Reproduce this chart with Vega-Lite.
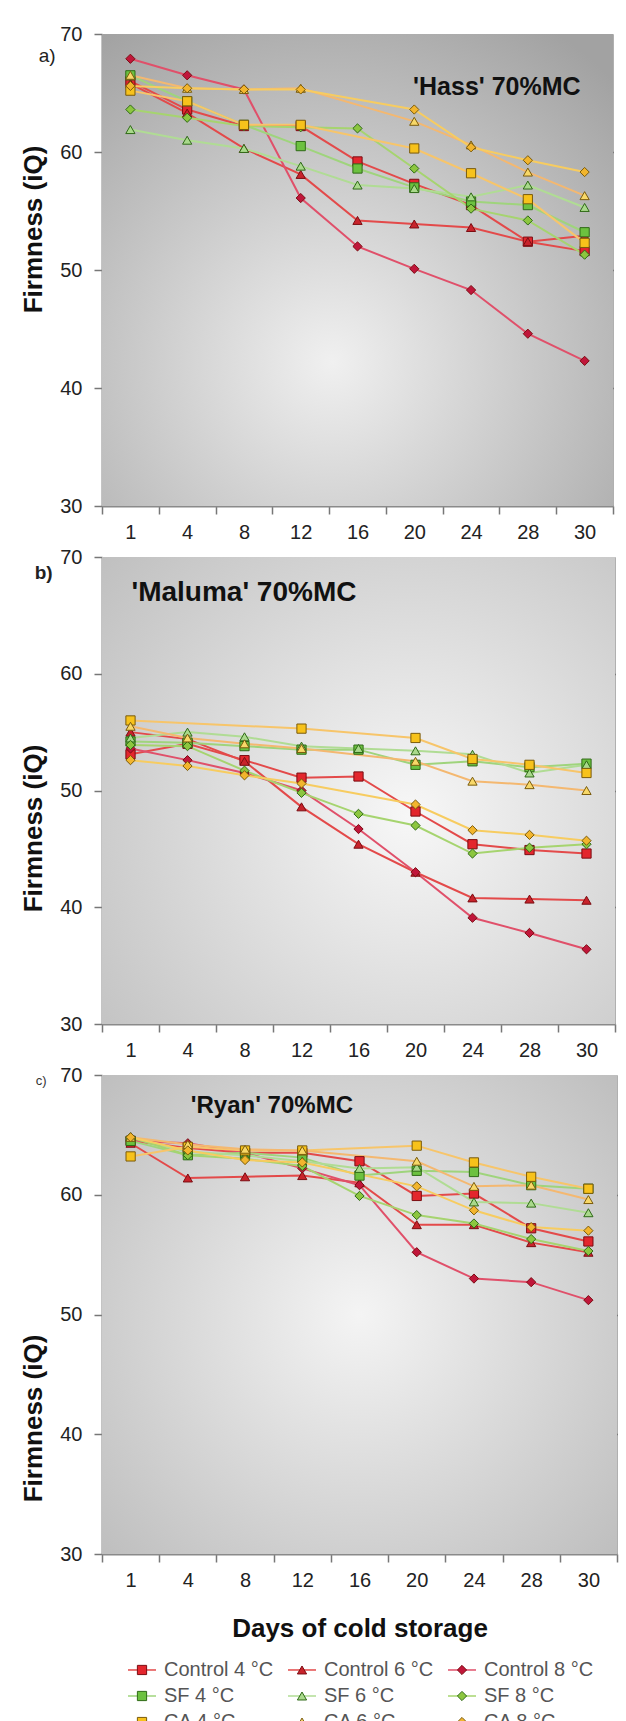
{
  "$schema": "https://vega.github.io/schema/vega-lite/v6.json",
  "background": "white",
  "padding": {"left": 20, "top": 23, "right": 5, "bottom": 0},
  "bounds": "full",
  "spacing": 3,
  "datasets": {
    "hass": [
      {"day":"1","series":"Control 4 °C","firmness":66.0},{"day":"4","series":"Control 4 °C","firmness":63.6},{"day":"8","series":"Control 4 °C","firmness":62.2},{"day":"12","series":"Control 4 °C","firmness":62.2},{"day":"16","series":"Control 4 °C","firmness":59.2},{"day":"20","series":"Control 4 °C","firmness":57.3},{"day":"24","series":"Control 4 °C","firmness":55.5},{"day":"28","series":"Control 4 °C","firmness":52.4},{"day":"30","series":"Control 4 °C","firmness":51.6},
      {"day":"1","series":"Control 6 °C","firmness":65.8},{"day":"4","series":"Control 6 °C","firmness":63.3},{"day":"8","series":"Control 6 °C","firmness":60.3},{"day":"12","series":"Control 6 °C","firmness":58.1},{"day":"16","series":"Control 6 °C","firmness":54.2},{"day":"20","series":"Control 6 °C","firmness":53.9},{"day":"24","series":"Control 6 °C","firmness":53.6},{"day":"28","series":"Control 6 °C","firmness":52.4},{"day":"30","series":"Control 6 °C","firmness":52.9},
      {"day":"1","series":"Control 8 °C","firmness":67.9},{"day":"4","series":"Control 8 °C","firmness":66.5},{"day":"8","series":"Control 8 °C","firmness":65.3},{"day":"12","series":"Control 8 °C","firmness":56.1},{"day":"16","series":"Control 8 °C","firmness":52.0},{"day":"20","series":"Control 8 °C","firmness":50.1},{"day":"24","series":"Control 8 °C","firmness":48.3},{"day":"28","series":"Control 8 °C","firmness":44.6},{"day":"30","series":"Control 8 °C","firmness":42.3},
      {"day":"1","series":"SF 4 °C","firmness":66.5},{"day":"4","series":"SF 4 °C","firmness":64.3},{"day":"8","series":"SF 4 °C","firmness":62.3},{"day":"12","series":"SF 4 °C","firmness":60.5},{"day":"16","series":"SF 4 °C","firmness":58.6},{"day":"20","series":"SF 4 °C","firmness":57.0},{"day":"24","series":"SF 4 °C","firmness":55.8},{"day":"28","series":"SF 4 °C","firmness":55.5},{"day":"30","series":"SF 4 °C","firmness":53.2},
      {"day":"1","series":"SF 6 °C","firmness":61.9},{"day":"4","series":"SF 6 °C","firmness":61.0},{"day":"8","series":"SF 6 °C","firmness":60.3},{"day":"12","series":"SF 6 °C","firmness":58.8},{"day":"16","series":"SF 6 °C","firmness":57.2},{"day":"20","series":"SF 6 °C","firmness":56.9},{"day":"24","series":"SF 6 °C","firmness":56.2},{"day":"28","series":"SF 6 °C","firmness":57.2},{"day":"30","series":"SF 6 °C","firmness":55.3},
      {"day":"1","series":"SF 8 °C","firmness":63.6},{"day":"4","series":"SF 8 °C","firmness":62.9},{"day":"8","series":"SF 8 °C","firmness":62.2},{"day":"12","series":"SF 8 °C","firmness":62.1},{"day":"16","series":"SF 8 °C","firmness":62.0},{"day":"20","series":"SF 8 °C","firmness":58.6},{"day":"24","series":"SF 8 °C","firmness":55.2},{"day":"28","series":"SF 8 °C","firmness":54.2},{"day":"30","series":"SF 8 °C","firmness":51.3},
      {"day":"1","series":"CA 4 °C","firmness":65.2},{"day":"4","series":"CA 4 °C","firmness":64.3},{"day":"8","series":"CA 4 °C","firmness":62.3},{"day":"12","series":"CA 4 °C","firmness":62.3},{"day":"20","series":"CA 4 °C","firmness":60.3},{"day":"24","series":"CA 4 °C","firmness":58.2},{"day":"28","series":"CA 4 °C","firmness":56.0},{"day":"30","series":"CA 4 °C","firmness":52.3},
      {"day":"1","series":"CA 6 °C","firmness":66.5},{"day":"4","series":"CA 6 °C","firmness":65.4},{"day":"8","series":"CA 6 °C","firmness":65.3},{"day":"12","series":"CA 6 °C","firmness":65.4},{"day":"20","series":"CA 6 °C","firmness":62.6},{"day":"24","series":"CA 6 °C","firmness":60.6},{"day":"28","series":"CA 6 °C","firmness":58.3},{"day":"30","series":"CA 6 °C","firmness":56.3},
      {"day":"1","series":"CA 8 °C","firmness":65.6},{"day":"4","series":"CA 8 °C","firmness":65.4},{"day":"8","series":"CA 8 °C","firmness":65.3},{"day":"12","series":"CA 8 °C","firmness":65.3},{"day":"20","series":"CA 8 °C","firmness":63.6},{"day":"24","series":"CA 8 °C","firmness":60.4},{"day":"28","series":"CA 8 °C","firmness":59.3},{"day":"30","series":"CA 8 °C","firmness":58.3}
    ],
    "maluma": [
      {"day":"1","series":"Control 4 °C","firmness":53.1},{"day":"4","series":"Control 4 °C","firmness":54.0},{"day":"8","series":"Control 4 °C","firmness":52.6},{"day":"12","series":"Control 4 °C","firmness":51.1},{"day":"16","series":"Control 4 °C","firmness":51.2},{"day":"20","series":"Control 4 °C","firmness":48.2},{"day":"24","series":"Control 4 °C","firmness":45.4},{"day":"28","series":"Control 4 °C","firmness":44.9},{"day":"30","series":"Control 4 °C","firmness":44.6},
      {"day":"1","series":"Control 6 °C","firmness":55.0},{"day":"4","series":"Control 6 °C","firmness":54.4},{"day":"8","series":"Control 6 °C","firmness":52.5},{"day":"12","series":"Control 6 °C","firmness":48.6},{"day":"16","series":"Control 6 °C","firmness":45.4},{"day":"20","series":"Control 6 °C","firmness":43.0},{"day":"24","series":"Control 6 °C","firmness":40.8},{"day":"28","series":"Control 6 °C","firmness":40.7},{"day":"30","series":"Control 6 °C","firmness":40.6},
      {"day":"1","series":"Control 8 °C","firmness":53.6},{"day":"4","series":"Control 8 °C","firmness":52.6},{"day":"8","series":"Control 8 °C","firmness":51.5},{"day":"12","series":"Control 8 °C","firmness":50.0},{"day":"16","series":"Control 8 °C","firmness":46.7},{"day":"20","series":"Control 8 °C","firmness":43.0},{"day":"24","series":"Control 8 °C","firmness":39.1},{"day":"28","series":"Control 8 °C","firmness":37.8},{"day":"30","series":"Control 8 °C","firmness":36.4},
      {"day":"1","series":"SF 4 °C","firmness":54.2},{"day":"4","series":"SF 4 °C","firmness":54.1},{"day":"8","series":"SF 4 °C","firmness":53.8},{"day":"12","series":"SF 4 °C","firmness":53.5},{"day":"16","series":"SF 4 °C","firmness":53.5},{"day":"20","series":"SF 4 °C","firmness":52.2},{"day":"24","series":"SF 4 °C","firmness":52.5},{"day":"28","series":"SF 4 °C","firmness":52.0},{"day":"30","series":"SF 4 °C","firmness":52.3},
      {"day":"1","series":"SF 6 °C","firmness":54.5},{"day":"4","series":"SF 6 °C","firmness":55.0},{"day":"8","series":"SF 6 °C","firmness":54.6},{"day":"12","series":"SF 6 °C","firmness":53.8},{"day":"16","series":"SF 6 °C","firmness":53.6},{"day":"20","series":"SF 6 °C","firmness":53.4},{"day":"24","series":"SF 6 °C","firmness":53.1},{"day":"28","series":"SF 6 °C","firmness":51.5},{"day":"30","series":"SF 6 °C","firmness":52.2},
      {"day":"1","series":"SF 8 °C","firmness":53.9},{"day":"4","series":"SF 8 °C","firmness":53.8},{"day":"8","series":"SF 8 °C","firmness":51.7},{"day":"12","series":"SF 8 °C","firmness":49.8},{"day":"16","series":"SF 8 °C","firmness":48.0},{"day":"20","series":"SF 8 °C","firmness":47.0},{"day":"24","series":"SF 8 °C","firmness":44.6},{"day":"28","series":"SF 8 °C","firmness":45.1},{"day":"30","series":"SF 8 °C","firmness":45.4},
      {"day":"1","series":"CA 4 °C","firmness":56.0},{"day":"12","series":"CA 4 °C","firmness":55.3},{"day":"20","series":"CA 4 °C","firmness":54.5},{"day":"24","series":"CA 4 °C","firmness":52.7},{"day":"28","series":"CA 4 °C","firmness":52.2},{"day":"30","series":"CA 4 °C","firmness":51.5},
      {"day":"1","series":"CA 6 °C","firmness":55.5},{"day":"4","series":"CA 6 °C","firmness":54.5},{"day":"8","series":"CA 6 °C","firmness":54.0},{"day":"12","series":"CA 6 °C","firmness":53.6},{"day":"20","series":"CA 6 °C","firmness":52.5},{"day":"24","series":"CA 6 °C","firmness":50.8},{"day":"28","series":"CA 6 °C","firmness":50.5},{"day":"30","series":"CA 6 °C","firmness":50.0},
      {"day":"1","series":"CA 8 °C","firmness":52.6},{"day":"4","series":"CA 8 °C","firmness":52.1},{"day":"8","series":"CA 8 °C","firmness":51.3},{"day":"12","series":"CA 8 °C","firmness":50.6},{"day":"20","series":"CA 8 °C","firmness":48.8},{"day":"24","series":"CA 8 °C","firmness":46.6},{"day":"28","series":"CA 8 °C","firmness":46.2},{"day":"30","series":"CA 8 °C","firmness":45.7}
    ],
    "ryan": [
      {"day":"1","series":"Control 4 °C","firmness":64.5},{"day":"4","series":"Control 4 °C","firmness":63.9},{"day":"8","series":"Control 4 °C","firmness":63.5},{"day":"12","series":"Control 4 °C","firmness":63.5},{"day":"16","series":"Control 4 °C","firmness":62.8},{"day":"20","series":"Control 4 °C","firmness":59.9},{"day":"24","series":"Control 4 °C","firmness":60.1},{"day":"28","series":"Control 4 °C","firmness":57.2},{"day":"30","series":"Control 4 °C","firmness":56.1},
      {"day":"1","series":"Control 6 °C","firmness":64.3},{"day":"4","series":"Control 6 °C","firmness":61.4},{"day":"8","series":"Control 6 °C","firmness":61.5},{"day":"12","series":"Control 6 °C","firmness":61.6},{"day":"16","series":"Control 6 °C","firmness":61.0},{"day":"20","series":"Control 6 °C","firmness":57.5},{"day":"24","series":"Control 6 °C","firmness":57.5},{"day":"28","series":"Control 6 °C","firmness":56.0},{"day":"30","series":"Control 6 °C","firmness":55.2},
      {"day":"1","series":"Control 8 °C","firmness":64.5},{"day":"4","series":"Control 8 °C","firmness":64.3},{"day":"8","series":"Control 8 °C","firmness":63.5},{"day":"12","series":"Control 8 °C","firmness":62.2},{"day":"16","series":"Control 8 °C","firmness":60.8},{"day":"20","series":"Control 8 °C","firmness":55.2},{"day":"24","series":"Control 8 °C","firmness":53.0},{"day":"28","series":"Control 8 °C","firmness":52.7},{"day":"30","series":"Control 8 °C","firmness":51.2},
      {"day":"1","series":"SF 4 °C","firmness":64.5},{"day":"4","series":"SF 4 °C","firmness":63.3},{"day":"8","series":"SF 4 °C","firmness":63.5},{"day":"12","series":"SF 4 °C","firmness":63.1},{"day":"16","series":"SF 4 °C","firmness":61.6},{"day":"20","series":"SF 4 °C","firmness":62.0},{"day":"24","series":"SF 4 °C","firmness":61.9},{"day":"28","series":"SF 4 °C","firmness":60.8},{"day":"30","series":"SF 4 °C","firmness":60.5},
      {"day":"1","series":"SF 6 °C","firmness":64.8},{"day":"4","series":"SF 6 °C","firmness":63.6},{"day":"8","series":"SF 6 °C","firmness":63.3},{"day":"12","series":"SF 6 °C","firmness":62.8},{"day":"16","series":"SF 6 °C","firmness":62.2},{"day":"20","series":"SF 6 °C","firmness":62.3},{"day":"24","series":"SF 6 °C","firmness":59.4},{"day":"28","series":"SF 6 °C","firmness":59.3},{"day":"30","series":"SF 6 °C","firmness":58.5},
      {"day":"1","series":"SF 8 °C","firmness":64.8},{"day":"4","series":"SF 8 °C","firmness":63.3},{"day":"8","series":"SF 8 °C","firmness":63.0},{"day":"12","series":"SF 8 °C","firmness":62.4},{"day":"16","series":"SF 8 °C","firmness":59.9},{"day":"20","series":"SF 8 °C","firmness":58.3},{"day":"24","series":"SF 8 °C","firmness":57.6},{"day":"28","series":"SF 8 °C","firmness":56.3},{"day":"30","series":"SF 8 °C","firmness":55.3},
      {"day":"1","series":"CA 4 °C","firmness":63.2},{"day":"4","series":"CA 4 °C","firmness":64.0},{"day":"8","series":"CA 4 °C","firmness":63.7},{"day":"12","series":"CA 4 °C","firmness":63.7},{"day":"20","series":"CA 4 °C","firmness":64.1},{"day":"24","series":"CA 4 °C","firmness":62.7},{"day":"28","series":"CA 4 °C","firmness":61.5},{"day":"30","series":"CA 4 °C","firmness":60.5},
      {"day":"1","series":"CA 6 °C","firmness":64.8},{"day":"4","series":"CA 6 °C","firmness":64.2},{"day":"8","series":"CA 6 °C","firmness":63.8},{"day":"12","series":"CA 6 °C","firmness":63.7},{"day":"20","series":"CA 6 °C","firmness":62.8},{"day":"24","series":"CA 6 °C","firmness":60.7},{"day":"28","series":"CA 6 °C","firmness":60.8},{"day":"30","series":"CA 6 °C","firmness":59.6},
      {"day":"1","series":"CA 8 °C","firmness":64.8},{"day":"4","series":"CA 8 °C","firmness":63.7},{"day":"8","series":"CA 8 °C","firmness":62.9},{"day":"12","series":"CA 8 °C","firmness":62.7},{"day":"20","series":"CA 8 °C","firmness":60.7},{"day":"24","series":"CA 8 °C","firmness":58.7},{"day":"28","series":"CA 8 °C","firmness":57.3},{"day":"30","series":"CA 8 °C","firmness":57.0}
    ],
    "legend": [
      {"series":"Control 4 °C","treatment":"Control","temp":"4 °C"},{"series":"Control 6 °C","treatment":"Control","temp":"6 °C"},{"series":"Control 8 °C","treatment":"Control","temp":"8 °C"},
      {"series":"SF 4 °C","treatment":"SF","temp":"4 °C"},{"series":"SF 6 °C","treatment":"SF","temp":"6 °C"},{"series":"SF 8 °C","treatment":"SF","temp":"8 °C"},
      {"series":"CA 4 °C","treatment":"CA","temp":"4 °C"},{"series":"CA 6 °C","treatment":"CA","temp":"6 °C"},{"series":"CA 8 °C","treatment":"CA","temp":"8 °C"}
    ]
  },
  "vconcat": [
    {
      "width": 511, "height": 472,
      "title": {"text": "a)", "anchor": "start", "frame": "bounds", "fontSize": 19, "fontWeight": "normal", "color": "#222", "offset": 0, "dx": 18, "dy": 42},
      "data": {"name": "hass"},
      "layer": [
        {"data": {"values": [{}]}, "mark": {"type": "rect", "fill": {"gradient": "radial", "x1": 0.45, "y1": 0.68, "r1": 0, "x2": 0.45, "y2": 0.68, "r2": 0.78, "stops": [{"offset": 0, "color": "#f0f0f0"}, {"offset": 1, "color": "#a2a2a2"}]}}, "encoding": {}},
        {"mark": {"type": "line", "strokeWidth": 2}, "encoding": {
          "x": {"field": "day", "type": "ordinal", "scale": {"type": "band", "domain": ["1","4","8","12","16","20","24","28","30"], "paddingInner": 0, "paddingOuter": 0}, "axis": {"title": null}},
          "y": {"field": "firmness", "type": "quantitative", "scale": {"domain": [30, 70], "nice": false, "zero": false}, "axis": {"title": "Firmness (iQ)", "values": [30,40,50,60,70], "titleY": 195, "gridOpacity": {"condition": {"test": "datum.value == 30 || datum.value == 70", "value": 0}, "value": 1}}},
          "color": {"field": "series", "type": "nominal", "legend": null, "scale": {"domain": ["Control 4 °C","Control 6 °C","Control 8 °C","SF 4 °C","SF 6 °C","SF 8 °C","CA 4 °C","CA 6 °C","CA 8 °C"], "range": ["#e34a4a","#e34a4a","#e0506a","#9fd47c","#b0dc94","#a6d46f","#f7c56a","#f4b870","#f7cc60"]}}
        }},
        {"mark": {"type": "point", "filled": true, "opacity": 1, "strokeWidth": 1}, "encoding": {
          "x": {"field": "day", "type": "ordinal", "axis": {"title": null}},
          "y": {"field": "firmness", "type": "quantitative", "axis": {"title": "Firmness (iQ)"}},
          "fill": {"field": "series", "type": "nominal", "legend": null, "scale": {"domain": ["Control 4 °C","Control 6 °C","Control 8 °C","SF 4 °C","SF 6 °C","SF 8 °C","CA 4 °C","CA 6 °C","CA 8 °C"], "range": ["#e3262d","#c8232b","#c0163a","#6cc13f","#a9d98b","#8cc63f","#f7c21b","#f8d868","#f2b52d"]}},
          "stroke": {"field": "series", "type": "nominal", "legend": null, "scale": {"domain": ["Control 4 °C","Control 6 °C","Control 8 °C","SF 4 °C","SF 6 °C","SF 8 °C","CA 4 °C","CA 6 °C","CA 8 °C"], "range": ["#7b0d12","#7b0d12","#7b0d12","#2f6a17","#2f6a17","#2f6a17","#7a5b0c","#7a5b0c","#7a5b0c"]}},
          "shape": {"field": "series", "type": "nominal", "legend": null, "scale": {"domain": ["Control 4 °C","Control 6 °C","Control 8 °C","SF 4 °C","SF 6 °C","SF 8 °C","CA 4 °C","CA 6 °C","CA 8 °C"], "range": ["square","triangle-up","diamond","square","triangle-up","diamond","square","triangle-up","diamond"]}},
          "size": {"field": "series", "type": "nominal", "legend": null, "scale": {"domain": ["Control 4 °C","Control 6 °C","Control 8 °C","SF 4 °C","SF 6 °C","SF 8 °C","CA 4 °C","CA 6 °C","CA 8 °C"], "range": [85,85,60,85,85,60,85,85,60]}}
        }},
        {"data": {"values": [{}]}, "mark": {"type": "text", "text": "'Hass' 70%MC", "font": "Liberation Sans", "fontSize": 25, "fontWeight": "bold", "color": "#111", "align": "right", "baseline": "middle", "dx": -4}, "encoding": {"x": {"datum": "30"}, "y": {"datum": 65.5}}}
      ]
    },
    {
      "width": 513, "height": 467,
      "title": {"text": "b)", "anchor": "start", "frame": "bounds", "fontSize": 19, "fontWeight": "bold", "color": "#222", "offset": 0, "dx": 14, "dy": 36},
      "data": {"name": "maluma"},
      "layer": [
        {"data": {"values": [{}]}, "mark": {"type": "rect", "fill": {"gradient": "radial", "x1": 0.6, "y1": 0.55, "r1": 0, "x2": 0.6, "y2": 0.55, "r2": 0.78, "stops": [{"offset": 0, "color": "#f7f7f7"}, {"offset": 1, "color": "#c0c0c0"}]}}, "encoding": {}},
        {"mark": {"type": "line", "strokeWidth": 2}, "encoding": {
          "x": {"field": "day", "type": "ordinal", "scale": {"type": "band", "domain": ["1","4","8","12","16","20","24","28","30"], "paddingInner": 0, "paddingOuter": 0}, "axis": {"title": null}},
          "y": {"field": "firmness", "type": "quantitative", "scale": {"domain": [30, 70], "nice": false, "zero": false}, "axis": {"title": "Firmness (iQ)", "values": [30,40,50,60,70], "titleY": 271, "gridOpacity": {"condition": {"test": "datum.value == 30 || datum.value == 70", "value": 0}, "value": 1}}},
          "color": {"field": "series", "type": "nominal", "legend": null}
        }},
        {"mark": {"type": "point", "filled": true, "opacity": 1, "strokeWidth": 1}, "encoding": {
          "x": {"field": "day", "type": "ordinal", "axis": {"title": null}},
          "y": {"field": "firmness", "type": "quantitative", "axis": {"title": "Firmness (iQ)"}},
          "fill": {"field": "series", "type": "nominal", "legend": null},
          "stroke": {"field": "series", "type": "nominal", "legend": null},
          "shape": {"field": "series", "type": "nominal", "legend": null},
          "size": {"field": "series", "type": "nominal", "legend": null}
        }},
        {"data": {"values": [{}]}, "mark": {"type": "text", "text": "'Maluma' 70%MC", "font": "Liberation Sans", "fontSize": 28, "fontWeight": "bold", "color": "#111", "align": "left", "baseline": "middle", "dx": 1}, "encoding": {"x": {"datum": "1"}, "y": {"datum": 66.9}}}
      ]
    },
    {
      "width": 515, "height": 479,
      "title": {"text": "c)", "anchor": "start", "frame": "bounds", "fontSize": 13, "fontWeight": "normal", "color": "#333", "offset": 0, "dx": 15, "dy": 23},
      "data": {"name": "ryan"},
      "layer": [
        {"data": {"values": [{}]}, "mark": {"type": "rect", "fill": {"gradient": "radial", "x1": 0.5, "y1": 0.5, "r1": 0, "x2": 0.5, "y2": 0.5, "r2": 0.75, "stops": [{"offset": 0, "color": "#f4f4f4"}, {"offset": 1, "color": "#b9b9b9"}]}}, "encoding": {}},
        {"mark": {"type": "line", "strokeWidth": 2}, "encoding": {
          "x": {"field": "day", "type": "ordinal", "scale": {"type": "band", "domain": ["1","4","8","12","16","20","24","28","30"], "paddingInner": 0, "paddingOuter": 0}, "axis": {"title": "Days of cold storage"}},
          "y": {"field": "firmness", "type": "quantitative", "scale": {"domain": [30, 70], "nice": false, "zero": false}, "axis": {"title": "Firmness (iQ)", "values": [30,40,50,60,70], "titleY": 343, "gridOpacity": {"condition": {"test": "datum.value == 30 || datum.value == 70", "value": 0}, "value": 1}}},
          "color": {"field": "series", "type": "nominal", "legend": null}
        }},
        {"mark": {"type": "point", "filled": true, "opacity": 1, "strokeWidth": 1}, "encoding": {
          "x": {"field": "day", "type": "ordinal", "axis": {"title": "Days of cold storage"}},
          "y": {"field": "firmness", "type": "quantitative", "axis": {"title": "Firmness (iQ)"}},
          "fill": {"field": "series", "type": "nominal", "legend": null},
          "stroke": {"field": "series", "type": "nominal", "legend": null},
          "shape": {"field": "series", "type": "nominal", "legend": null},
          "size": {"field": "series", "type": "nominal", "legend": null}
        }},
        {"data": {"values": [{}]}, "mark": {"type": "text", "text": "'Ryan' 70%MC", "font": "Liberation Sans", "fontSize": 24, "fontWeight": "bold", "color": "#111", "align": "left", "baseline": "middle", "dx": 3}, "encoding": {"x": {"datum": "4"}, "y": {"datum": 67.4}}}
      ]
    },
    {
      "width": 480, "height": 102,
      "view": {"stroke": null},
      "data": {"name": "legend"},
      "encoding": {
        "x": {"field": "temp", "type": "nominal", "scale": {"type": "band", "domain": ["4 °C","6 °C","8 °C"], "paddingInner": 0, "paddingOuter": 0}, "axis": null},
        "y": {"field": "treatment", "type": "nominal", "scale": {"type": "band", "domain": ["Control","SF","CA"], "paddingInner": 0, "paddingOuter": 0.46}, "axis": null}
      },
      "layer": [
        {"mark": {"type": "rule", "strokeWidth": 1.5, "xOffset": -54, "x2Offset": -26}, "encoding": {"x2": {"field": "temp"}, "color": {"field": "series", "type": "nominal", "legend": null}}},
        {"mark": {"type": "point", "filled": true, "opacity": 1, "strokeWidth": 1, "xOffset": -40}, "encoding": {
          "fill": {"field": "series", "type": "nominal", "legend": null},
          "stroke": {"field": "series", "type": "nominal", "legend": null},
          "shape": {"field": "series", "type": "nominal", "legend": null},
          "size": {"field": "series", "type": "nominal", "legend": null}
        }},
        {"mark": {"type": "text", "align": "left", "baseline": "middle", "dx": -18, "font": "Liberation Sans", "fontSize": 20, "color": "#555"}, "encoding": {"text": {"field": "series"}}}
      ]
    }
  ],
  "resolve": {"scale": {"fill": "shared", "stroke": "shared", "shape": "shared", "size": "shared", "color": "shared"}},
  "config": {
    "font": "Liberation Sans",
    "view": {"stroke": "#b0b0b0", "strokeWidth": 1},
    "title": {"font": "Liberation Sans"},
    "axis": {"labelFont": "Liberation Sans", "labelFontSize": 20, "labelColor": "#222", "titleFont": "Liberation Sans", "titleFontWeight": "bold", "titleColor": "#111", "domainColor": "#8a8a8a", "domainWidth": 2, "tickColor": "#777", "tickSize": 8, "tickWidth": 1.5},
    "axisX": {"tickBand": "extent", "labelPadding": 8, "labelAngle": 0, "grid": false, "titleFontSize": 26, "titlePadding": 25},
    "axisY": {"labelPadding": 12, "titleFontSize": 26, "titlePadding": 13, "grid": true, "gridColor": "#444", "gridWidth": 1.5}
  }
}
